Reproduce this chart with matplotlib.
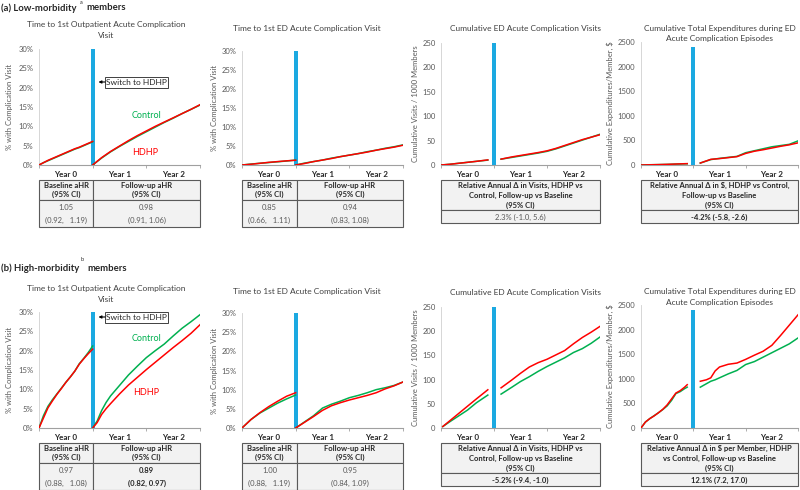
import matplotlib
matplotlib.use('Agg')
import matplotlib.pyplot as plt
from matplotlib.patches import Rectangle

plt.rcParams['font.family'] = ['Lato', 'DejaVu Sans']

# ---------------- DATA ----------------
years = ["Year 0", "Year 1", "Year 2"]

# (a) Low-morbidity: Time to 1st outpatient acute complication visit (%)
a1_base_x = [0, 1, 2, 3, 4, 5, 6, 7, 8, 9, 10, 11, 12]
a1_base_ctrl = [0, 0.6, 1.1, 1.6, 2.1, 2.6, 3.1, 3.6, 4.1, 4.5, 5.0, 5.5, 6.0]
a1_base_hdhp = [0, 0.6, 1.2, 1.7, 2.2, 2.7, 3.2, 3.7, 4.2, 4.6, 5.1, 5.6, 6.1]
a1_fu_x = [12, 14, 16, 18, 20, 22, 24, 26, 28, 30, 32, 34, 36]
a1_fu_ctrl = [0, 1.8, 3.4, 4.8, 6.1, 7.4, 8.6, 9.8, 11.0, 12.1, 13.3, 14.4, 15.5]
a1_fu_hdhp = [0, 1.9, 3.5, 4.9, 6.3, 7.6, 8.8, 10.0, 11.1, 12.2, 13.3, 14.4, 15.6]

# (a) Time to 1st ED acute complication visit (%)
a2_base_x = [0, 2, 4, 6, 8, 10, 12]
a2_base_ctrl = [0, 0.25, 0.45, 0.65, 0.85, 1.05, 1.3]
a2_base_hdhp = [0, 0.2, 0.45, 0.7, 0.9, 1.1, 1.25]
a2_fu_x = [12, 14, 16, 18, 20, 22, 24, 26, 28, 30, 32, 34, 36]
a2_fu_ctrl = [0, 0.5, 0.9, 1.3, 1.8, 2.2, 2.6, 3.0, 3.5, 3.9, 4.4, 4.8, 5.3]
a2_fu_hdhp = [0, 0.4, 0.9, 1.3, 1.7, 2.2, 2.6, 3.0, 3.4, 3.9, 4.3, 4.7, 5.2]

# (a) Cumulative ED acute complication visits / 1000 members
a3_base_x = [0, 2, 4, 6, 8, 10.6]
a3_base_ctrl = [0, 1.5, 3.5, 5.5, 7.5, 10]
a3_base_hdhp = [0, 1.5, 3.5, 5.5, 7.5, 10.5]
a3_fu_x = [13.6, 16, 18, 20, 22, 24, 26, 28, 30, 32, 34, 36]
a3_fu_ctrl = [12, 15.5, 18.5, 21.5, 24.5, 28, 33, 39, 45, 51, 57, 63]
a3_fu_hdhp = [12, 16.5, 19.5, 22.5, 25.5, 29, 34, 40, 46, 52, 57, 62]

# (a) Cumulative total expenditures / member ($)
a4_base_x = [0, 2, 4, 6, 8, 10.6]
a4_base_ctrl = [0, 5, 8, 12, 18, 25]
a4_base_hdhp = [0, 4, 8, 13, 20, 28]
a4_fu_x = [13.6, 16, 18, 20, 22, 24, 26, 28, 30, 32, 34, 36]
a4_fu_ctrl = [40, 110, 135, 155, 175, 250, 290, 330, 370, 395, 420, 490]
a4_fu_hdhp = [40, 115, 130, 150, 170, 235, 280, 310, 345, 380, 410, 450]

# (b) High-morbidity: outpatient
b1_base_x = [0, 1, 2, 3, 4, 5, 6, 7, 8, 9, 10, 11, 12]
b1_base_ctrl = [0, 3.2, 5.6, 7.3, 8.8, 10.3, 11.8, 13.2, 14.7, 16.6, 18.0, 19.5, 21.2]
b1_base_hdhp = [0, 2.6, 5.2, 7.0, 8.7, 10.2, 11.8, 13.2, 14.7, 16.5, 17.9, 19.2, 20.4]
b1_fu_x = [12, 13, 14, 15, 16, 18, 20, 22, 24, 26, 28, 30, 32, 34, 36]
b1_fu_ctrl = [0, 1.8, 4.5, 6.6, 8.3, 11.0, 13.7, 16.0, 18.2, 20.0, 21.7, 23.8, 25.8, 27.5, 29.3]
b1_fu_hdhp = [0, 1.4, 3.5, 5.0, 6.3, 8.8, 11.1, 13.1, 15.1, 17.0, 18.9, 20.8, 22.6, 24.5, 26.7]

# (b) ED visit
b2_base_x = [0, 2, 4, 6, 8, 10, 12]
b2_base_ctrl = [0, 2.2, 3.9, 5.2, 6.5, 7.6, 8.6]
b2_base_hdhp = [0, 2.2, 4.0, 5.6, 7.0, 8.3, 9.2]
b2_fu_x = [12, 14, 16, 18, 20, 22, 24, 26, 28, 30, 32, 34, 36]
b2_fu_ctrl = [0, 1.6, 3.2, 5.2, 6.2, 7.0, 7.9, 8.5, 9.2, 10.0, 10.5, 11.1, 12.0]
b2_fu_hdhp = [0, 1.5, 3.0, 4.6, 5.8, 6.6, 7.3, 7.9, 8.5, 9.2, 10.2, 11.0, 12.0]

# (b) Cumulative ED visits
b3_base_x = [0.4, 2, 4, 6, 8, 10.6]
b3_base_ctrl = [3, 13, 25, 37, 52, 68]
b3_base_hdhp = [3, 15, 30, 45, 60, 79]
b3_fu_x = [13.6, 16, 18, 20, 22, 24, 26, 28, 30, 32, 34, 36]
b3_fu_ctrl = [70, 84, 96, 106, 117, 127, 136, 145, 156, 164, 175, 188]
b3_fu_hdhp = [83, 99, 113, 126, 135, 142, 151, 160, 174, 187, 198, 210]

# (b) Cumulative expenditures
b4_base_x = [0, 1, 2, 3, 4, 5, 6, 7, 8, 9, 10, 10.6]
b4_base_ctrl = [0, 120, 190, 250, 310, 375, 450, 560, 700, 740, 800, 830]
b4_base_hdhp = [0, 120, 190, 245, 310, 380, 470, 590, 710, 760, 830, 880]
b4_fu_x = [13.6, 15, 16, 17, 18, 20, 22, 24, 26, 28, 30, 32, 34, 36]
b4_fu_ctrl = [830, 900, 950, 980, 1020, 1100, 1170, 1290, 1350, 1440, 1530, 1620, 1710, 1830]
b4_fu_hdhp = [950, 980, 1020, 1160, 1240, 1295, 1320, 1395, 1480, 1560, 1680, 1880, 2090, 2300]

switch_month = 12
bar_tops = [30, 30, 250, 2400]

titles = ["Time to 1st Outpatient Acute Complication\nVisit",
          "Time to 1st ED Acute Complication Visit",
          "Cumulative ED Acute Complication Visits",
          "Cumulative Total Expenditures during ED\nAcute Complication Episodes"]
ylabels = ["% with Complication Visit", "% with Complication Visit",
           "Cumulative Visits / 1000 Members", "Cumulative Expenditures/Member, $"]
yticks = [[0, 5, 10, 15, 20, 25, 30], [0, 5, 10, 15, 20, 25, 30],
          [0, 50, 100, 150, 200, 250], [0, 500, 1000, 1500, 2000, 2500]]
ylims = [30, 30, 250, 2500]

# ---------------- STYLE ----------------
W, H = 800, 490
GREEN = '#00B050'
RED = '#FF0000'
BLUE = '#1BA9E1'
GRAY = '#595959'
FILL = '#F2F2F2'
EDGE = '#5a5a5a'

fig = plt.figure(figsize=(8, 4.9), dpi=100)
ov = fig.add_axes([0, 0, 1, 1])
ov.set_xlim(0, W)
ov.set_ylim(H, 0)
ov.axis('off')

cols = [(39, 200), (242, 403), (441, 600), (641, 798)]
row_geo = {'a': dict(off=0, tops=[49, 51, 43, 42], bot=165, box=77),
           'b': dict(off=263, tops=[312, 313, 307, 305], bot=428, box=312)}

series = {
    'a': [(a1_base_x, a1_base_ctrl, a1_base_hdhp, a1_fu_x, a1_fu_ctrl, a1_fu_hdhp),
          (a2_base_x, a2_base_ctrl, a2_base_hdhp, a2_fu_x, a2_fu_ctrl, a2_fu_hdhp),
          (a3_base_x, a3_base_ctrl, a3_base_hdhp, a3_fu_x, a3_fu_ctrl, a3_fu_hdhp),
          (a4_base_x, a4_base_ctrl, a4_base_hdhp, a4_fu_x, a4_fu_ctrl, a4_fu_hdhp)],
    'b': [(b1_base_x, b1_base_ctrl, b1_base_hdhp, b1_fu_x, b1_fu_ctrl, b1_fu_hdhp),
          (b2_base_x, b2_base_ctrl, b2_base_hdhp, b2_fu_x, b2_fu_ctrl, b2_fu_hdhp),
          (b3_base_x, b3_base_ctrl, b3_base_hdhp, b3_fu_x, b3_fu_ctrl, b3_fu_hdhp),
          (b4_base_x, b4_base_ctrl, b4_base_hdhp, b4_fu_x, b4_fu_ctrl, b4_fu_hdhp)],
}

title_x = [106, 307, 526, 720]
ylabel_x = [10, 214, 415, 610]

for row in ['a', 'b']:
    g = row_geo[row]
    off = g['off']
    for i, (l, r) in enumerate(cols):
        t = g['tops'][i]
        b = g['bot']
        ax = fig.add_axes([l / W, 1 - b / H, (r - l) / W, (b - t) / H])
        bx, bc, bh, fx, fc, fh = series[row][i]
        ax.bar([switch_month], [bar_tops[i]], width=0.9, color=BLUE, zorder=3)
        ax.plot(bx, bc, color=GREEN, lw=1.1, zorder=4)
        ax.plot(bx, bh, color=RED, lw=1.1, zorder=5)
        ax.plot(fx, fc, color=GREEN, lw=1.1, zorder=4)
        ax.plot(fx, fh, color=RED, lw=1.1, zorder=5)
        ax.set_xlim(0, 36)
        ax.set_ylim(0, ylims[i])
        ax.set_xticks([0, 12, 24, 36])
        ax.set_xticklabels([])
        ax.tick_params(axis='x', direction='out', length=2.5, width=0.6, color='#a0a0a0')
        ax.set_yticks(yticks[i])
        if i < 2:
            ax.set_yticklabels([f"{v}%" for v in yticks[i]])
        else:
            ax.set_yticklabels([str(v) for v in yticks[i]])
        ax.tick_params(axis='y', length=0, labelsize=5.5, labelcolor=GRAY, pad=4)
        for s in ['top', 'right']:
            ax.spines[s].set_visible(False)
        ax.spines['left'].set_color('#d0d0d0')
        ax.spines['left'].set_linewidth(0.6)
        ax.spines['bottom'].set_color('#a0a0a0')
        ax.spines['bottom'].set_linewidth(0.8)
        ax.patch.set_alpha(0)
        # year labels
        for k, yl in enumerate(years):
            xm = l + (k * 12 + 6) / 36 * (r - l)
            ov.text(xm, b + 9, yl, ha='center', va='center', fontsize=5.8,
                    fontweight='bold', color='#262626')
        # titles
        tl = titles[i].split('\n')
        ty0 = [25, 28, 29, 28][i] + off
        for j, line in enumerate(tl):
            ov.text(title_x[i], ty0 + 11 * j, line, ha='center', va='center',
                    fontsize=6.0, color='#404040')
        # ylabel
        ov.text(ylabel_x[i], (t + b) / 2, ylabels[i], rotation=90, ha='center',
                va='center', fontsize=5.5, color=GRAY)

    # Switch to HDHP annotation
    by = g['box']
    ov.add_patch(Rectangle((105, by), 63, 11, facecolor='white',
                           edgecolor='#404040', lw=0.7, zorder=6))
    ov.text(136.5, by + 5.5, "Switch to HDHP", ha='center', va='center',
            fontsize=6, color='#262626', zorder=7)
    ov.annotate("", xy=(98.5, by + 5), xytext=(105, by + 5),
                arrowprops=dict(arrowstyle='-|>', color='black', lw=0.8,
                                mutation_scale=4, shrinkA=0, shrinkB=0), zorder=7)

ov.text(147, 115, "Control", ha='center', va='center', fontsize=6.5, color=GREEN)
ov.text(145, 152, "HDHP", ha='center', va='center', fontsize=6.5, color=RED)
ov.text(147, 338, "Control", ha='center', va='center', fontsize=6.5, color=GREEN)
ov.text(146, 392, "HDHP", ha='center', va='center', fontsize=6.5, color=RED)

# Section labels
ov.text(1, 8, "(a) Low-morbidity", ha='left', va='center', fontsize=6.8,
        fontweight='bold', color='#262626')
ov.text(80, 2.5, "a", ha='left', va='center', fontsize=4, color='#262626')
ov.text(86, 8, "members", ha='left', va='center', fontsize=6.8,
        fontweight='bold', color='#262626')
ov.text(1, 268, "(b) High-morbidity", ha='left', va='center', fontsize=6.8,
        fontweight='bold', color='#262626')
ov.text(81, 259.5, "b", ha='left', va='center', fontsize=4, color='#262626')
ov.text(87, 268, "members", ha='left', va='center', fontsize=6.8,
        fontweight='bold', color='#262626')


def cell(x0, y0, x1, y1):
    ov.add_patch(Rectangle((x0, y0), x1 - x0, y1 - y0, facecolor=FILL,
                           edgecolor=EDGE, lw=0.8))


# aHR tables (panels 1 & 2)
ahr = {
    'a': [("1.05", "(0.92,   1.19)", "0.98", "(0.91, 1.06)", False),
          ("0.85", "(0.66,   1.11)", "0.94", "(0.83, 1.08)", False)],
    'b': [("0.97", "(0.88,   1.08)", "0.89", "(0.82, 0.97)", True),
          ("1.00", "(0.88,   1.19)", "0.95", "(0.84, 1.09)", False)],
}
rel = {
    'a': [("Relative Annual \u0394 in Visits, HDHP vs\nControl, Follow-up vs Baseline\n(95% CI)",
           "2.3% (-1.0, 5.6)", False),
          ("Relative Annual \u0394 in $, HDHP vs Control,\nFollow-up vs Baseline\n(95% CI)",
           "-4.2% (-5.8, -2.6)", True)],
    'b': [("Relative Annual \u0394 in Visits, HDHP vs\nControl, Follow-up vs Baseline\n(95% CI)",
           "-5.2% (-9.4, -1.0)", True),
          ("Relative Annual \u0394 in $ per Member, HDHP\nvs Control, Follow-up vs Baseline\n(95% CI)",
           "12.1% (7.2, 17.0)", True)],
}
splits = [93, 297]
for row in ['a', 'b']:
    off = row_geo[row]['off']
    for i in range(2):
        l, r = cols[i]
        sp = splits[i]
        y0, ym, y1 = 180 + off, 200 + off, 227 + off
        cell(l, y0, sp, ym)
        cell(sp, y0, r, ym)
        cell(l, ym, sp, y1)
        cell(sp, ym, r, y1)
        cb, cf = (l + sp) / 2, (sp + r) / 2
        for xc, txt in [(cb, "Baseline aHR"), (cf, "Follow-up aHR")]:
            ov.text(xc, 185.5 + off, txt, ha='center', va='center', fontsize=5.5,
                    fontweight='bold', color='#262626')
            ov.text(xc, 194.5 + off, "(95% CI)", ha='center', va='center', fontsize=5.5,
                    fontweight='bold', color='#262626')
        bv, bci, fv, fci, fbold = ahr[row][i]
        ov.text(cb, 207 + off, bv, ha='center', va='center', fontsize=5.5, color=GRAY)
        ov.text(cb, 220 + off, bci, ha='center', va='center', fontsize=5.5, color=GRAY)
        fw = 'bold' if fbold else 'normal'
        fcol = '#262626' if fbold else GRAY
        ov.text(cf, 207 + off, fv, ha='center', va='center', fontsize=5.5,
                fontweight=fw, color=fcol)
        ov.text(cf, 220 + off, fci, ha='center', va='center', fontsize=5.5,
                fontweight=fw, color=fcol)
    for i in range(2):
        l, r = cols[i + 2]
        y0, ym, y1 = 180 + off, 210 + off, 223 + off
        cell(l, y0, r, ym)
        cell(l, ym, r, y1)
        head, val, vb = rel[row][i]
        for j, line in enumerate(head.split('\n')):
            ov.text((l + r) / 2, 185.5 + off + 9.8 * j, line, ha='center', va='center',
                    fontsize=5.5, fontweight='bold', color='#262626')
        ov.text((l + r) / 2, 217 + off, val, ha='center', va='center', fontsize=5.5,
                fontweight='bold' if vb else 'normal',
                color='#262626' if vb else GRAY)

fig.savefig('out.png', dpi=100, facecolor='white')
